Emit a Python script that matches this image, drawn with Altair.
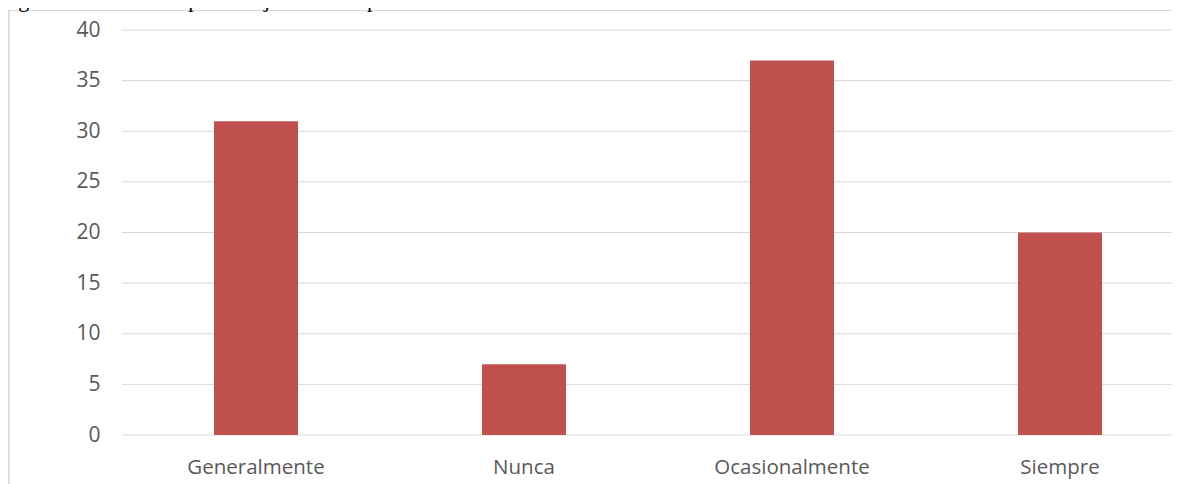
import altair as alt
import pandas as pd

categories = ["Generalmente", "Nunca", "Ocasionalmente", "Siempre"]
values = [31, 7, 37, 20]
y_ticks = [0, 5, 10, 15, 20, 25, 30, 35, 40]
title_text = "Figura 14 Gráfica en porcentajes de la respuesta 1.13."

df = pd.DataFrame({"cat": categories, "val": values})
grid_df = pd.DataFrame({"tick": y_ticks})

W, H = 1050, 405
yscale = alt.Scale(domain=[0, 40], nice=False)
yaxis = alt.Axis(values=y_ticks, domain=False, ticks=False, grid=False,
                 labelFont="Open Sans", labelFontSize=21, labelColor="#595959",
                 labelPadding=22)

grid = alt.Chart(grid_df).mark_rule(color="#D9D9D9", strokeWidth=1).encode(
    y=alt.Y("tick:Q", scale=yscale, title=None, axis=yaxis),
    x=alt.value(0), x2=alt.value(W),
)

bars = alt.Chart(df).mark_bar(size=84, color="#C0504D").encode(
    x=alt.X("cat:N", sort=categories, title=None,
            scale=alt.Scale(range=[0, 1072], paddingInner=0, paddingOuter=0),
            axis=alt.Axis(labelAngle=0, domain=False, ticks=False, grid=False,
                          labelFont="Open Sans", labelFontSize=20.5, labelColor="#595959",
                          labelPadding=22)),
    y=alt.Y("val:Q", scale=yscale, title=None, axis=yaxis),
)

frame_left = alt.Chart(df).mark_rule(color="#D9D9D9", strokeWidth=1.5).encode(
    x=alt.value(-113.5), y=alt.value(-20), y2=alt.value(460)
)
frame_top = alt.Chart(df).mark_rule(color="#D9D9D9", strokeWidth=1).encode(
    x=alt.value(-114), x2=alt.value(W), y=alt.value(-19.5)
)

title = alt.Chart(pd.DataFrame({"t": [title_text]})).mark_text(
    font="Liberation Serif", fontSize=22, color="#000000", align="left", baseline="alphabetic"
).encode(text="t:N", x=alt.value(-122), y=alt.value(-23.5))

chart = alt.layer(frame_left, frame_top, grid, bars, title).properties(
    width=W, height=H,
    autosize=alt.AutoSizeParams(type="none"),
    padding={"left": 114, "top": 22, "right": 0, "bottom": 49},
).configure_view(stroke=None)

chart.save("out.html", embed_options={"renderer": "svg", "actions": False})
